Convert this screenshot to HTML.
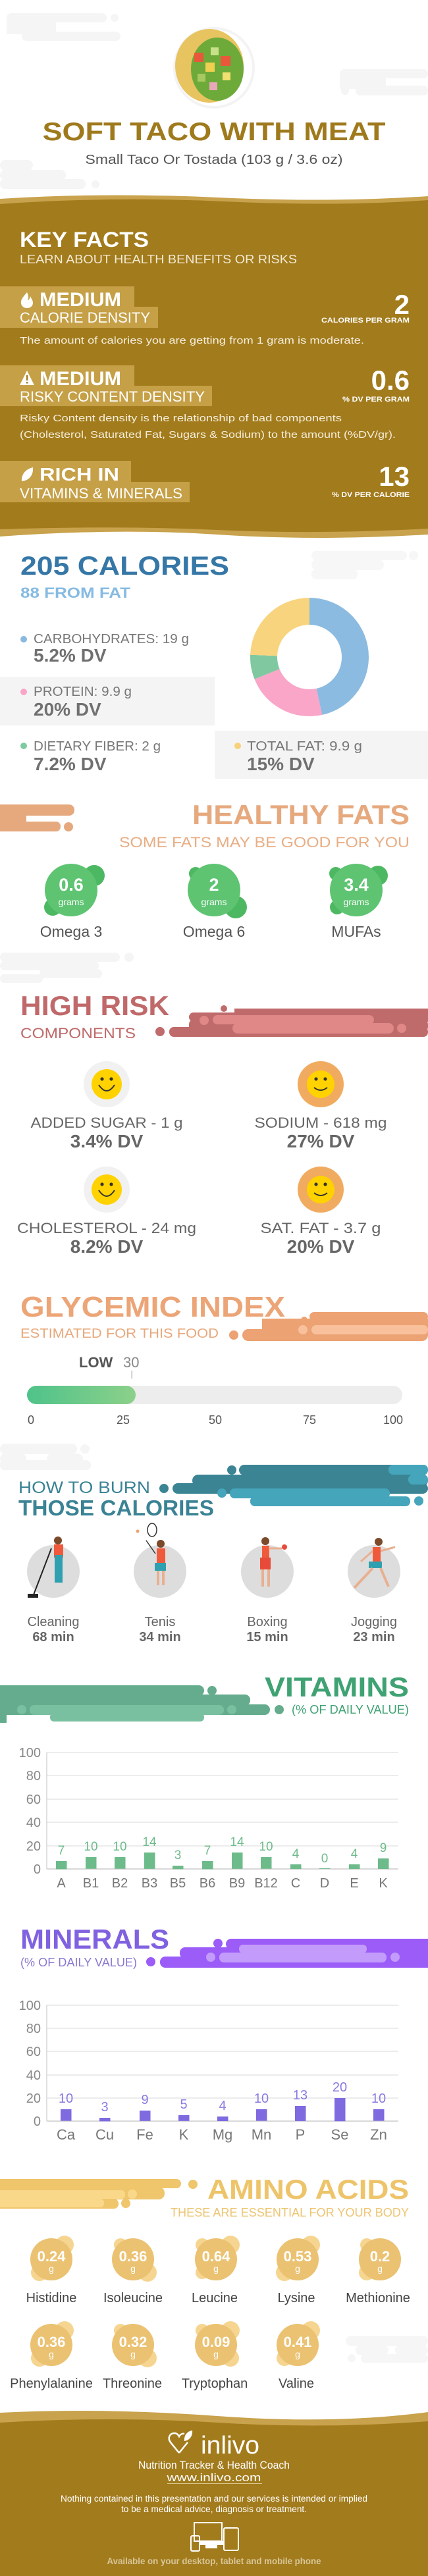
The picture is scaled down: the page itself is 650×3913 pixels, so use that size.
<!DOCTYPE html>
<html><head><meta charset="utf-8"><style>
html,body{margin:0;padding:0;background:#fff}
svg{display:block}
text{font-family:"Liberation Sans",sans-serif}
.b{font-weight:bold}
</style></head><body>
<svg width="650" height="3913" viewBox="0 0 650 3913" xmlns="http://www.w3.org/2000/svg">
<!-- header deco -->
<g fill="#F5F5F5">
<rect x="10" y="20" width="152" height="14" rx="7"/><circle cx="174" cy="27" r="6"/>
<rect x="33" y="48" width="150" height="14" rx="7"/><rect x="10" y="30" width="75" height="22"/>
<rect x="516" y="105" width="134" height="14" rx="7"/><rect x="540" y="130" width="110" height="15" rx="7"/><circle cx="524" cy="138" r="6"/><rect x="516" y="115" width="70" height="20"/>
<rect x="0" y="243" width="50" height="16" rx="8"/><rect x="0" y="258" width="100" height="16" rx="8"/><rect x="0" y="272" width="130" height="15" rx="7"/><circle cx="145" cy="280" r="6"/>
</g>
<circle cx="325" cy="103" r="62" fill="#F3F3F3"/>
<circle cx="325" cy="103" r="58" fill="#fff"/>
<g>
<ellipse cx="318" cy="100" rx="52" ry="56" fill="#E8C460"/>
<ellipse cx="330" cy="105" rx="40" ry="48" fill="#6DAA3A"/>
<rect x="295" y="80" width="14" height="14" fill="#E9583A"/><rect x="335" y="85" width="15" height="15" fill="#E9583A"/>
<rect x="312" y="95" width="14" height="14" fill="#F0D050"/><rect x="318" y="125" width="12" height="12" fill="#E8A8B8"/>
<rect x="300" y="112" width="12" height="12" fill="#A8C860"/><rect x="338" y="110" width="12" height="12" fill="#F2E070"/>
<rect x="320" y="72" width="12" height="12" fill="#C9E08A"/>
</g>
<text x="325" y="213" text-anchor="middle" class="b" font-size="39" fill="#9F7A1D" textLength="521" lengthAdjust="spacingAndGlyphs">SOFT TACO WITH MEAT</text>
<text x="325" y="249" text-anchor="middle" font-size="20" fill="#555" textLength="391" lengthAdjust="spacingAndGlyphs">Small Taco Or Tostada (103 g / 3.6 oz)</text>
<!-- key facts bg -->
<path d="M0 302 Q160 292 330 300 T650 298 L650 812 Q480 822 330 812 T0 815 Z" fill="#C8A24C"/>
<path d="M0 310 Q170 298 340 306 T650 304 L650 803 Q480 812 330 805 T0 804 Z" fill="#A27B1C"/>
<text x="30" y="375" class="b" font-size="32" fill="#fff" textLength="196" lengthAdjust="spacingAndGlyphs">KEY FACTS</text>
<text x="30" y="400" font-size="18" fill="#F2EAD3" textLength="421" lengthAdjust="spacingAndGlyphs">LEARN ABOUT HEALTH BENEFITS OR RISKS</text>
<g fill="#C5A047">
<rect x="0" y="435" width="204" height="32"/><rect x="0" y="466" width="240" height="32"/>
<rect x="0" y="555" width="204" height="32"/><rect x="0" y="586" width="322" height="31"/>
<rect x="0" y="700" width="199" height="33"/><rect x="0" y="732" width="288" height="31"/>
</g>
<!-- icons -->
<path d="M41 444 C34 452 31 456 32 461 C33 466 37 468 41 468 C46 468 50 465 50 460 C50 456 47 453 46 450 C45 454 44 456 42 456 C44 452 43 448 41 444 Z" fill="#fff"/>
<path d="M41 563 L52 585 L30 585 Z" fill="#fff"/><rect x="40" y="570" width="2.5" height="8" fill="#A27B1C"/><rect x="40" y="580" width="2.5" height="2.5" fill="#A27B1C"/>
<path d="M33 731 C32 720 40 712 50 710 C51 722 44 730 33 731 Z" fill="#fff"/>
<text x="60" y="465" class="b" font-size="30" fill="#fff" textLength="124" lengthAdjust="spacingAndGlyphs">MEDIUM</text>
<text x="30" y="490" font-size="22" fill="#fff" textLength="198" lengthAdjust="spacingAndGlyphs">CALORIE DENSITY</text>
<text x="622" y="477" text-anchor="end" class="b" font-size="42" fill="#fff">2</text>
<text x="622" y="490" text-anchor="end" class="b" font-size="11" fill="#fff" textLength="134" lengthAdjust="spacingAndGlyphs">CALORIES PER GRAM</text>
<text x="30" y="522" font-size="15" fill="#F5EEDC" textLength="523" lengthAdjust="spacingAndGlyphs">The amount of calories you are getting from 1 gram is moderate.</text>
<text x="60" y="585" class="b" font-size="30" fill="#fff" textLength="124" lengthAdjust="spacingAndGlyphs">MEDIUM</text>
<text x="30" y="610" font-size="22" fill="#fff" textLength="281" lengthAdjust="spacingAndGlyphs">RISKY CONTENT DENSITY</text>
<text x="622" y="592" text-anchor="end" class="b" font-size="42" fill="#fff">0.6</text>
<text x="622" y="610" text-anchor="end" class="b" font-size="11" fill="#fff" textLength="102" lengthAdjust="spacingAndGlyphs">% DV PER GRAM</text>
<text x="30" y="640" font-size="15" fill="#F5EEDC" textLength="489" lengthAdjust="spacingAndGlyphs">Risky Content density is the relationship of bad components</text>
<text x="30" y="665" font-size="15" fill="#F5EEDC" textLength="571" lengthAdjust="spacingAndGlyphs">(Cholesterol, Saturated Fat, Sugars &amp; Sodium) to the amount (%DV/gr).</text>
<text x="60" y="730" class="b" font-size="28" fill="#fff" textLength="121" lengthAdjust="spacingAndGlyphs">RICH  IN</text>
<text x="30" y="757" font-size="22" fill="#fff" textLength="247" lengthAdjust="spacingAndGlyphs">VITAMINS &amp; MINERALS</text>
<text x="622" y="738" text-anchor="end" class="b" font-size="42" fill="#fff">13</text>
<text x="622" y="755" text-anchor="end" class="b" font-size="11" fill="#fff" textLength="118" lengthAdjust="spacingAndGlyphs">% DV PER CALORIE</text>
<!-- calories -->
<g fill="#F7F7F7"><rect x="473" y="837" width="145" height="14" rx="7"/><circle cx="628" cy="844" r="7"/><rect x="473" y="850" width="110" height="16" rx="8"/><rect x="473" y="865" width="70" height="15" rx="7"/></g>
<text x="31" y="873" class="b" font-size="40" fill="#3577A6" textLength="317" lengthAdjust="spacingAndGlyphs">205 CALORIES</text>
<text x="31" y="908" class="b" font-size="22" fill="#86BBE3" textLength="167" lengthAdjust="spacingAndGlyphs">88 FROM FAT</text>
<rect x="0" y="1028" width="326" height="74" fill="#F4F4F4"/>
<rect x="326" y="1110" width="324" height="73" fill="#F4F4F4"/>
<circle cx="36" cy="971" r="5" fill="#8AB9E0"/>
<text x="51" y="977" font-size="20" fill="#777" textLength="236" lengthAdjust="spacingAndGlyphs">CARBOHYDRATES: 19 g</text>
<text x="51" y="1005" class="b" font-size="28" fill="#707070">5.2% DV</text>
<circle cx="36" cy="1051" r="5" fill="#F9A5C8"/>
<text x="51" y="1057" font-size="20" fill="#777" textLength="149" lengthAdjust="spacingAndGlyphs">PROTEIN: 9.9 g</text>
<text x="51" y="1087" class="b" font-size="28" fill="#707070">20% DV</text>
<circle cx="36" cy="1133" r="5" fill="#7FCBA0"/>
<text x="51" y="1140" font-size="20" fill="#777" textLength="193" lengthAdjust="spacingAndGlyphs">DIETARY FIBER: 2 g</text>
<text x="51" y="1170" class="b" font-size="28" fill="#707070">7.2% DV</text>
<circle cx="361" cy="1133" r="5" fill="#F8D27A"/>
<text x="375" y="1140" font-size="20" fill="#777" textLength="175" lengthAdjust="spacingAndGlyphs">TOTAL FAT: 9.9 g</text>
<text x="375" y="1170" class="b" font-size="28" fill="#707070">15% DV</text>
<g transform="rotate(-90 470 998)" fill="none" stroke-width="41">
<circle cx="470" cy="998" r="69.5" stroke="#8CBBE1" stroke-dasharray="203.3 436.7"/>
<circle cx="470" cy="998" r="69.5" stroke="#F9A6C9" stroke-dasharray="97.5 436.7" stroke-dashoffset="-203.3"/>
<circle cx="470" cy="998" r="69.5" stroke="#7FC8A0" stroke-dasharray="29.1 436.7" stroke-dashoffset="-300.8"/>
<circle cx="470" cy="998" r="69.5" stroke="#F8D47E" stroke-dasharray="106.8 436.7" stroke-dashoffset="-329.9"/>
</g>
<!-- healthy fats -->
<g fill="#E6A97E"><rect x="-10" y="1222" width="123" height="17" rx="8"/><rect x="0" y="1236" width="40" height="27"/><rect x="30" y="1248" width="62" height="15" rx="7"/><circle cx="104" cy="1256" r="7"/></g>
<rect x="0" y="1239" width="45" height="9" fill="#fff" opacity="0"/>
<text x="622" y="1252" text-anchor="end" class="b" font-size="42" fill="#E6A97E" textLength="330" lengthAdjust="spacingAndGlyphs">HEALTHY FATS</text>
<text x="622" y="1287" text-anchor="end" font-size="22" fill="#E8AE85" textLength="441" lengthAdjust="spacingAndGlyphs">SOME FATS MAY BE GOOD FOR YOU</text>
<g fill="#4DB862">
<circle cx="143" cy="1330" r="16"/><circle cx="80" cy="1378" r="13"/>
<circle cx="297" cy="1327" r="10"/><circle cx="358" cy="1378" r="17"/>
<circle cx="510" cy="1327" r="10"/><circle cx="574" cy="1330" r="15"/><circle cx="512" cy="1378" r="11"/>
</g>
<g fill="#5EC472"><circle cx="108" cy="1352" r="40"/><circle cx="325" cy="1352" r="40"/><circle cx="541" cy="1352" r="40"/></g>
<g fill="#fff" text-anchor="middle">
<text x="108" y="1353" class="b" font-size="27">0.6</text><text x="108" y="1375" font-size="14">grams</text>
<text x="325" y="1353" class="b" font-size="27">2</text><text x="325" y="1375" font-size="14">grams</text>
<text x="541" y="1353" class="b" font-size="27">3.4</text><text x="541" y="1375" font-size="14">grams</text>
</g>
<g fill="#555" text-anchor="middle" font-size="23">
<text x="108" y="1423">Omega 3</text><text x="325" y="1423">Omega 6</text><text x="541" y="1423">MUFAs</text>
</g>
<!-- high risk -->
<g fill="#F5F5F5"><rect x="0" y="1447" width="182" height="14" rx="7"/><circle cx="196" cy="1454" r="7"/><rect x="0" y="1460" width="150" height="14" rx="7"/><rect x="60" y="1472" width="95" height="14" rx="7"/><rect x="0" y="1480" width="65" height="13" rx="6"/>
<rect x="217" y="1565" width="150" height="0"/><rect x="217" y="1563" width="0" height="0"/></g>
<g fill="#F6F6F6"><rect x="217" y="1565" width="0" height="0"/></g>
<g fill="#C06B6B">
<rect x="356" y="1532" width="294" height="20"/><rect x="287" y="1538" width="120" height="14" rx="7"/>
<rect x="257" y="1560" width="393" height="15" rx="7"/><rect x="287" y="1548" width="363" height="20" rx="8"/>
<circle cx="243" cy="1567" r="7"/><circle cx="340" cy="1532" r="5"/>
</g>
<g fill="#E08788"><rect x="323" y="1542" width="245" height="14" rx="7"/><rect x="353" y="1554" width="245" height="16" rx="8"/><circle cx="310" cy="1550" r="7"/><circle cx="610" cy="1562" r="7"/></g>
<text x="31" y="1542" class="b" font-size="42" fill="#C0696A" textLength="226" lengthAdjust="spacingAndGlyphs">HIGH RISK</text>
<text x="31" y="1577" font-size="22" fill="#C0696A" textLength="175" lengthAdjust="spacingAndGlyphs">COMPONENTS</text>
<!-- smileys -->
<g>
<circle cx="162" cy="1647" r="35" fill="#F1F1F1"/><circle cx="487" cy="1647" r="35" fill="#F1AB60"/>
<circle cx="162" cy="1807" r="35" fill="#F1F1F1"/><circle cx="487" cy="1807" r="35" fill="#F1AB60"/>
<g fill="#FFD200"><circle cx="162" cy="1647" r="23"/><circle cx="487" cy="1647" r="21"/><circle cx="162" cy="1807" r="23"/><circle cx="487" cy="1807" r="21"/></g>
<g fill="#333"><circle cx="155" cy="1639" r="2.6"/><circle cx="169" cy="1639" r="2.6"/><circle cx="480" cy="1639" r="2.6"/><circle cx="494" cy="1639" r="2.6"/>
<circle cx="155" cy="1799" r="2.6"/><circle cx="169" cy="1799" r="2.6"/><circle cx="480" cy="1799" r="2.6"/><circle cx="494" cy="1799" r="2.6"/></g>
<g fill="none" stroke="#333" stroke-width="2">
<path d="M150 1648 Q162 1666 174 1648"/><path d="M477 1652 Q487 1660 497 1652"/>
<path d="M150 1808 Q162 1826 174 1808"/><path d="M477 1812 Q487 1820 497 1812"/>
</g>
</g>
<g text-anchor="middle">
<text x="162" y="1713" font-size="22" fill="#666" textLength="231" lengthAdjust="spacingAndGlyphs">ADDED SUGAR - 1 g</text>
<text x="162" y="1743" class="b" font-size="28" fill="#666">3.4% DV</text>
<text x="487" y="1713" font-size="22" fill="#666" textLength="201" lengthAdjust="spacingAndGlyphs">SODIUM - 618 mg</text>
<text x="487" y="1743" class="b" font-size="28" fill="#666">27% DV</text>
<text x="162" y="1873" font-size="22" fill="#666" textLength="272" lengthAdjust="spacingAndGlyphs">CHOLESTEROL - 24 mg</text>
<text x="162" y="1903" class="b" font-size="28" fill="#666">8.2% DV</text>
<text x="487" y="1873" font-size="22" fill="#666" textLength="183" lengthAdjust="spacingAndGlyphs">SAT. FAT - 3.7 g</text>
<text x="487" y="1903" class="b" font-size="28" fill="#666">20% DV</text>
</g>
<!-- glycemic -->
<g fill="#ECA273"><rect x="470" y="1993" width="180" height="14" rx="7"/><rect x="398" y="2003" width="252" height="24"/><rect x="368" y="2019" width="282" height="18" rx="9"/><circle cx="355" cy="2028" r="7"/><circle cx="462" cy="2005" r="5"/></g>
<g fill="#F8C19C"><rect x="473" y="2013" width="177" height="14" rx="7"/><circle cx="460" cy="2020" r="7"/></g>
<text x="31" y="2000" class="b" font-size="44" fill="#ECA577" textLength="402" lengthAdjust="spacingAndGlyphs">GLYCEMIC INDEX</text>
<text x="31" y="2032" font-size="20" fill="#E8A87C" textLength="301" lengthAdjust="spacingAndGlyphs">ESTIMATED FOR THIS FOOD</text>
<text x="120" y="2077" class="b" font-size="22" fill="#555">LOW</text>
<text x="187" y="2077" font-size="22" fill="#888">30</text>
<rect x="199.5" y="2082" width="1.5" height="12" fill="#bbb"/>
<defs><linearGradient id="gg" x1="0" x2="1"><stop offset="0" stop-color="#4FC38A"/><stop offset="1" stop-color="#8CD08A"/></linearGradient></defs>
<rect x="41" y="2105" width="570" height="28" rx="14" fill="#EDEDED"/>
<rect x="41" y="2105" width="165" height="28" rx="14" fill="url(#gg)"/>
<g font-size="18" fill="#555" text-anchor="middle">
<text x="47" y="2163">0</text><text x="187" y="2163">25</text><text x="327" y="2163">50</text><text x="470" y="2163">75</text><text x="597" y="2163">100</text>
</g>
<!-- burn -->
<g fill="#F5F5F5"><rect x="0" y="2193" width="117" height="16" rx="8"/><circle cx="129" cy="2201" r="7"/><rect x="0" y="2208" width="40" height="16" rx="8"/><rect x="71" y="2208" width="55" height="16" rx="8"/><rect x="0" y="2218" width="138" height="15" rx="7"/></g>
<g fill="#3B8494">
<rect x="363" y="2225" width="287" height="16" rx="8"/><circle cx="352" cy="2233" r="7"/>
<rect x="292" y="2240" width="358" height="18" rx="9"/>
<rect x="262" y="2253" width="388" height="16" rx="8"/><circle cx="249" cy="2261" r="7"/>
</g>
<g fill="#45A5BA">
<rect x="349" y="2261" width="243" height="15" rx="7"/><circle cx="337" cy="2268" r="7"/>
<rect x="380" y="2273" width="243" height="15" rx="7"/><circle cx="636" cy="2280" r="7"/>
<rect x="590" y="2225" width="60" height="15" rx="7"/><rect x="620" y="2240" width="30" height="15" rx="7"/>
</g>
<text x="28" y="2268" font-size="25" fill="#3A8394" textLength="200" lengthAdjust="spacingAndGlyphs">HOW TO BURN</text>
<text x="28" y="2302" class="b" font-size="33" fill="#3A8394" textLength="297" lengthAdjust="spacingAndGlyphs">THOSE CALORIES</text>
<g fill="#DDDDDD"><circle cx="81" cy="2387" r="40"/><circle cx="243" cy="2387" r="40"/><circle cx="406" cy="2387" r="40"/><circle cx="568" cy="2387" r="40"/></g>
<!-- figures -->
<g>
<circle cx="88" cy="2340" r="6" fill="#7A4A2A"/><rect x="82" y="2346" width="14" height="20" fill="#F05A3C"/><rect x="83" y="2362" width="12" height="42" fill="#2FA0B0"/><line x1="78" y1="2352" x2="50" y2="2425" stroke="#222" stroke-width="2"/><rect x="42" y="2421" width="16" height="6" fill="#222"/>
<circle cx="244" cy="2345" r="6" fill="#7A4A2A"/><rect x="238" y="2352" width="13" height="22" fill="#F05A3C"/><rect x="235" y="2374" width="17" height="12" fill="#2FA0B0"/><rect x="238" y="2386" width="4" height="22" fill="#E8B090"/><rect x="246" y="2386" width="4" height="22" fill="#E8B090"/><line x1="236" y1="2360" x2="222" y2="2340" stroke="#333" stroke-width="1.5"/><ellipse cx="231" cy="2324" rx="7" ry="10" fill="none" stroke="#333" stroke-width="1.5"/><circle cx="209" cy="2326" r="2.5" fill="#F0A070"/>
<circle cx="403" cy="2341" r="6" fill="#7A4A2A"/><rect x="398" y="2348" width="11" height="18" fill="#F05A3C"/><line x1="408" y1="2352" x2="428" y2="2352" stroke="#E8B090" stroke-width="3"/><circle cx="432" cy="2350" r="4" fill="#E84A3A"/><rect x="395" y="2366" width="16" height="18" fill="#E84A3A"/><rect x="397" y="2384" width="4" height="26" fill="#E8B090"/><rect x="406" y="2384" width="4" height="26" fill="#E8B090"/>
<circle cx="575" cy="2342" r="6" fill="#7A4A2A"/><rect x="566" y="2350" width="12" height="22" fill="#F05A3C"/><rect x="560" y="2372" width="20" height="10" fill="#2FA0B0"/><line x1="566" y1="2382" x2="538" y2="2412" stroke="#E8B090" stroke-width="4"/><line x1="578" y1="2382" x2="590" y2="2410" stroke="#E8B090" stroke-width="4"/><line x1="578" y1="2356" x2="600" y2="2350" stroke="#E8B090" stroke-width="3"/><line x1="566" y1="2356" x2="548" y2="2372" stroke="#E8B090" stroke-width="3"/>
</g>
<g text-anchor="middle" fill="#666" font-size="20">
<text x="81" y="2470">Cleaning</text><text x="243" y="2470">Tenis</text><text x="406" y="2470">Boxing</text><text x="568" y="2470">Jogging</text>
<g class="b"><text x="81" y="2493">68 min</text><text x="243" y="2493">34 min</text><text x="406" y="2493">15 min</text><text x="568" y="2493">23 min</text></g>
</g>
<!-- vitamins -->
<g fill="#64AC8D">
<rect x="-10" y="2560" width="320" height="16" rx="8"/><circle cx="322" cy="2568" r="7"/>
<rect x="-10" y="2574" width="390" height="17" rx="8"/>
<rect x="-10" y="2589" width="420" height="16" rx="8"/><circle cx="424" cy="2597" r="7"/>
<rect x="0" y="2560" width="10" height="57"/>
</g>
<g fill="#78C0A0"><rect x="45" y="2590" width="295" height="15" rx="7"/><circle cx="33" cy="2597" r="7"/><circle cx="352" cy="2597" r="7"/><rect x="76" y="2602" width="234" height="13" rx="6"/></g>
<text x="621" y="2577" text-anchor="end" class="b" font-size="42" fill="#3FA273" textLength="219" lengthAdjust="spacingAndGlyphs">VITAMINS</text>
<text x="621" y="2603" text-anchor="end" font-size="18" fill="#3FA273" textLength="178" lengthAdjust="spacingAndGlyphs">(% OF DAILY VALUE)</text>
<g stroke="#E6E6E6" stroke-width="1.5">
<line x1="71" y1="2662" x2="605" y2="2662"/><line x1="71" y1="2697" x2="605" y2="2697"/><line x1="71" y1="2733" x2="605" y2="2733"/><line x1="71" y1="2768" x2="605" y2="2768"/><line x1="71" y1="2804" x2="605" y2="2804"/>
</g>
<line x1="71" y1="2662" x2="71" y2="2839" stroke="#D5D5D5" stroke-width="1.5"/>
<line x1="71" y1="2839" x2="605" y2="2839" stroke="#CCC" stroke-width="1.5"/>
<g font-size="20" fill="#888" text-anchor="end">
<text x="62" y="2669">100</text><text x="62" y="2704">80</text><text x="62" y="2740">60</text><text x="62" y="2775">40</text><text x="62" y="2811">20</text><text x="62" y="2846">0</text>
</g>
<g fill="#6DBB8A">
<rect x="85" y="2827" width="16.5" height="12.4"/><rect x="130" y="2821" width="16.5" height="17.7"/><rect x="174" y="2821" width="16.5" height="17.7"/><rect x="219" y="2814" width="16.5" height="24.8"/><rect x="262" y="2834" width="16.5" height="5.3"/><rect x="307" y="2827" width="16.5" height="12.4"/><rect x="352" y="2814" width="16.5" height="24.8"/><rect x="396" y="2821" width="16.5" height="17.7"/><rect x="441" y="2832" width="16.5" height="7.1"/><rect x="485" y="2838" width="16.5" height="1"/><rect x="530" y="2832" width="16.5" height="7.1"/><rect x="574" y="2823" width="16.5" height="16"/>
</g>
<g font-size="19" fill="#6DBB8A" text-anchor="middle">
<text x="93" y="2817">7</text><text x="138" y="2811">10</text><text x="182" y="2811">10</text><text x="227" y="2804">14</text><text x="270" y="2824">3</text><text x="315" y="2817">7</text><text x="360" y="2804">14</text><text x="404" y="2811">10</text><text x="449" y="2822">4</text><text x="493" y="2829">0</text><text x="538" y="2822">4</text><text x="582" y="2813">9</text>
</g>
<g font-size="20" fill="#777" text-anchor="middle">
<text x="93" y="2867">A</text><text x="138" y="2867">B1</text><text x="182" y="2867">B2</text><text x="227" y="2867">B3</text><text x="270" y="2867">B5</text><text x="315" y="2867">B6</text><text x="360" y="2867">B9</text><text x="404" y="2867">B12</text><text x="449" y="2867">C</text><text x="493" y="2867">D</text><text x="538" y="2867">E</text><text x="582" y="2867">K</text>
</g>
<!-- minerals -->
<g fill="#9B5CF7">
<rect x="343" y="2945" width="320" height="16" rx="8"/><circle cx="331" cy="2952" r="7"/>
<rect x="273" y="2958" width="380" height="17" rx="8"/>
<rect x="243" y="2972" width="420" height="17" rx="8"/><circle cx="229" cy="2980" r="7"/>
</g>
<g fill="#C39CFB"><rect x="363" y="2954" width="194" height="13" rx="6"/><rect x="333" y="2966" width="254" height="15" rx="7"/><circle cx="320" cy="2973" r="7"/><circle cx="600" cy="2973" r="7"/></g>
<text x="31" y="2960" class="b" font-size="42" fill="#8062E0" textLength="226" lengthAdjust="spacingAndGlyphs">MINERALS</text>
<text x="31" y="2987" font-size="18" fill="#8A78D0" textLength="177" lengthAdjust="spacingAndGlyphs">(% OF DAILY VALUE)</text>
<g stroke="#E6E6E6" stroke-width="1.5">
<line x1="71" y1="3046" x2="605" y2="3046"/><line x1="71" y1="3081" x2="605" y2="3081"/><line x1="71" y1="3116" x2="605" y2="3116"/><line x1="71" y1="3152" x2="605" y2="3152"/><line x1="71" y1="3187" x2="605" y2="3187"/>
</g>
<line x1="71" y1="3046" x2="71" y2="3222" stroke="#D5D5D5" stroke-width="1.5"/>
<line x1="71" y1="3222" x2="605" y2="3222" stroke="#CCC" stroke-width="1.5"/>
<g font-size="20" fill="#888" text-anchor="end">
<text x="62" y="3053">100</text><text x="62" y="3088">80</text><text x="62" y="3123">60</text><text x="62" y="3159">40</text><text x="62" y="3194">20</text><text x="62" y="3229">0</text>
</g>
<g fill="#7F6AE0">
<rect x="92" y="3204" width="16.5" height="17.6"/><rect x="151" y="3217" width="16.5" height="5.3"/><rect x="212" y="3206" width="16.5" height="15.8"/><rect x="271" y="3213" width="16.5" height="8.8"/><rect x="330" y="3215" width="16.5" height="7"/><rect x="389" y="3204" width="16.5" height="17.6"/><rect x="448" y="3199" width="16.5" height="22.9"/><rect x="508" y="3187" width="16.5" height="35.2"/><rect x="567" y="3204" width="16.5" height="17.6"/>
</g>
<g font-size="20" fill="#8A7AE0" text-anchor="middle">
<text x="100" y="3194">10</text><text x="159" y="3207">3</text><text x="220" y="3196">9</text><text x="279" y="3203">5</text><text x="338" y="3205">4</text><text x="397" y="3194">10</text><text x="456" y="3189">13</text><text x="516" y="3177">20</text><text x="575" y="3194">10</text>
</g>
<g font-size="22" fill="#777" text-anchor="middle">
<text x="100" y="3250">Ca</text><text x="159" y="3250">Cu</text><text x="220" y="3250">Fe</text><text x="279" y="3250">K</text><text x="338" y="3250">Mg</text><text x="397" y="3250">Mn</text><text x="456" y="3250">P</text><text x="516" y="3250">Se</text><text x="575" y="3250">Zn</text>
</g>
<!-- amino -->
<g fill="#EFC66B">
<rect x="-10" y="3310" width="285" height="14" rx="7"/><circle cx="293" cy="3318" r="7"/>
<rect x="-10" y="3322" width="260" height="19" rx="9"/>
<rect x="-10" y="3340" width="190" height="15" rx="7"/><circle cx="191" cy="3347" r="7"/>
</g>
<g fill="#FAD88A"><rect x="-10" y="3327" width="200" height="13" rx="6"/><circle cx="201" cy="3333" r="7"/><rect x="-10" y="3340" width="168" height="13" rx="6"/></g>
<g fill="#F6F6F6"><rect x="525" y="3548" width="125" height="16" rx="8"/><rect x="540" y="3563" width="50" height="14" rx="7"/><rect x="600" y="3563" width="50" height="14" rx="7"/><rect x="548" y="3576" width="102" height="13" rx="6"/><circle cx="534" cy="3582" r="6"/></g>
<text x="621" y="3340" text-anchor="end" class="b" font-size="42" fill="#EEC46A" textLength="306" lengthAdjust="spacingAndGlyphs">AMINO ACIDS</text>
<text x="621" y="3367" text-anchor="end" font-size="18" fill="#EDC572" textLength="362" lengthAdjust="spacingAndGlyphs">THESE ARE ESSENTIAL FOR YOUR BODY</text>
<g fill="#F5D590">
<circle cx="98" cy="3410" r="14"/><circle cx="60" cy="3452" r="13"/>
<circle cx="183" cy="3410" r="10"/><circle cx="224" cy="3452" r="14"/>
<circle cx="307" cy="3410" r="10"/><circle cx="350" cy="3410" r="14"/><circle cx="307" cy="3452" r="10"/>
<circle cx="472" cy="3410" r="14"/><circle cx="432" cy="3452" r="13"/>
<circle cx="557" cy="3410" r="10"/><circle cx="557" cy="3452" r="12"/>
<circle cx="98" cy="3540" r="14"/><circle cx="60" cy="3582" r="13"/>
<circle cx="183" cy="3540" r="10"/><circle cx="224" cy="3582" r="14"/>
<circle cx="307" cy="3540" r="10"/><circle cx="350" cy="3540" r="14"/><circle cx="350" cy="3582" r="13"/>
<circle cx="472" cy="3540" r="14"/><circle cx="432" cy="3582" r="12"/>
</g>
<g fill="#EBC272">
<circle cx="78" cy="3432" r="32"/><circle cx="202" cy="3432" r="32"/><circle cx="328" cy="3432" r="32"/><circle cx="452" cy="3432" r="32"/><circle cx="577" cy="3432" r="32"/>
<circle cx="78" cy="3562" r="32"/><circle cx="202" cy="3562" r="32"/><circle cx="328" cy="3562" r="32"/><circle cx="452" cy="3562" r="32"/>
</g>
<g fill="#fff" text-anchor="middle">
<g class="b" font-size="22">
<text x="78" y="3435">0.24</text><text x="202" y="3435">0.36</text><text x="328" y="3435">0.64</text><text x="452" y="3435">0.53</text><text x="577" y="3435">0.2</text>
<text x="78" y="3565">0.36</text><text x="202" y="3565">0.32</text><text x="328" y="3565">0.09</text><text x="452" y="3565">0.41</text>
</g>
<g font-size="14">
<text x="78" y="3451">g</text><text x="202" y="3451">g</text><text x="328" y="3451">g</text><text x="452" y="3451">g</text><text x="577" y="3451">g</text>
<text x="78" y="3581">g</text><text x="202" y="3581">g</text><text x="328" y="3581">g</text><text x="452" y="3581">g</text>
</g>
</g>
<g font-size="20" fill="#444" text-anchor="middle">
<text x="78" y="3497">Histidine</text><text x="202" y="3497">Isoleucine</text><text x="326" y="3497">Leucine</text><text x="450" y="3497">Lysine</text><text x="574" y="3497">Methionine</text>
<text x="78" y="3627">Phenylalanine</text><text x="201" y="3627">Threonine</text><text x="326" y="3627">Tryptophan</text><text x="450" y="3627">Valine</text>
</g>
<!-- footer -->
<path d="M0 3665 Q150 3657 330 3670 T650 3664 L650 3913 L0 3913 Z" fill="#C8A24C"/>
<path d="M0 3680 Q170 3670 330 3680 T650 3678 L650 3913 L0 3913 Z" fill="#A27B1C"/>
<path d="M272 3726 L259 3710 C254 3703 258 3696 265 3696 C269 3696 271 3699 272 3701 C273 3699 276 3696 280 3697" fill="none" stroke="#fff" stroke-width="2.5"/>
<path d="M272 3726 L285 3710" fill="none" stroke="#fff" stroke-width="2.5"/>
<path d="M280 3708 C279 3700 284 3693 292 3692 C293 3700 288 3707 280 3708 Z" fill="#fff"/>
<text x="305" y="3727" font-size="38" fill="#fff" textLength="89" lengthAdjust="spacingAndGlyphs">inlivo</text>
<g fill="#fff" text-anchor="middle">
<text x="325" y="3750" font-size="17" textLength="230" lengthAdjust="spacingAndGlyphs">Nutrition Tracker &amp; Health Coach</text>
<text x="325" y="3769" font-size="17" textLength="143" lengthAdjust="spacingAndGlyphs">www.inlivo.com</text>
<text x="325" y="3800" font-size="13.5" textLength="466" lengthAdjust="spacingAndGlyphs">Nothing contained in this presentation and our services is intended or implied</text>
<text x="325" y="3816" font-size="13.5" textLength="282" lengthAdjust="spacingAndGlyphs">to be a medical advice, diagnosis or treatment.</text>
</g>
<rect x="254" y="3772" width="144" height="1" fill="#D9C48C"/>
<g fill="none" stroke="#fff" stroke-width="2">
<rect x="295" y="3832" width="42" height="28"/><rect x="340" y="3840" width="22" height="34" rx="2"/><rect x="290" y="3852" width="13" height="23" rx="2"/>
</g>
<rect x="304" y="3860" width="36" height="6" fill="#fff"/><rect x="312" y="3866" width="18" height="5" fill="#fff"/>
<text x="325" y="3895" text-anchor="middle" class="b" font-size="14" fill="#D8C79A" textLength="325" lengthAdjust="spacingAndGlyphs">Available on your desktop, tablet and mobile phone</text>
</svg>
</body></html>
